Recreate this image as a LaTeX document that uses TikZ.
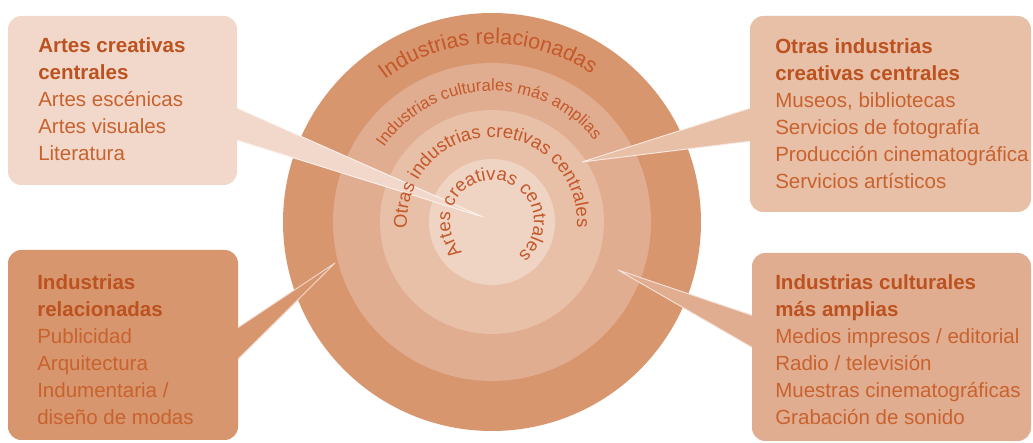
\documentclass[tikz,border=0pt]{standalone}
\usepackage{fontspec}
\setmainfont{Liberation Sans}
\usetikzlibrary{decorations.text}

% ring and box fills, from the outside in
\definecolor{ringout}{HTML}{D8966F}
\definecolor{ringwide}{HTML}{E1AD90}
\definecolor{ringother}{HTML}{E8BFA7}
\definecolor{ringcore}{HTML}{EFD3C3}
\definecolor{boxcore}{HTML}{F2D8CA}
\definecolor{headc}{HTML}{BC521F}
\definecolor{bodyc}{HTML}{C8622E}
\definecolor{ringtxt}{HTML}{C4582A}

\newcommand\boxhead[1]{{\bfseries\color{headc}#1}}

\tikzset{
  boxtext/.style={anchor=west, align=left, inner sep=0pt, text=bodyc,
    font=\fontsize{15.4pt}{20.25pt}\selectfont},
  callout/.style={rounded corners=10pt},
  wedge/.style={draw=white!65!#1, fill=#1, line width=0.7pt, line join=round},
  ringlabel/.style 2 args={decorate, decoration={text along path,
    text align=center, text color=ringtxt,
    text={|\fontsize{#1}{#1}\selectfont|#2}}}
}

\begin{document}
\begin{tikzpicture}[x=0.75pt, y=0.75pt]
\useasboundingbox (0,0) rectangle (1033,443);
\fill[white] (0,0) rectangle (1033,443);

% concentric rings
\begin{scope}[shift={(492,221)}]
  \coordinate (centre) at (0,0);
  \fill[ringout]   (centre) circle[radius=209];
  \fill[ringwide]  (centre) circle[radius=159];
  \fill[ringother] (centre) circle[radius=112];
  \fill[ringcore]  (centre) circle[radius=63];
\end{scope}

% pointer tips inside the rings
\coordinate (tipcore)  at (483,226);
\coordinate (tipother) at (582,281);
\coordinate (tipout)   at (335,180);
\coordinate (tipwide)  at (618,173);

% callout pointers
\path[wedge=boxcore]   (230,338) -- (tipcore)  -- (230,305) -- cycle;
\path[wedge=ringother] (760,338) -- (tipother) -- (760,303) -- cycle;
\path[wedge=ringout]   (230,110) -- (tipout)   -- (230,76)  -- cycle;
\path[wedge=ringwide]  (760,125) -- (tipwide)  -- (760,91)  -- cycle;

% ring names set along arcs
\begin{scope}[shift={(492,221)}]
  \path[ringlabel={16.1pt}{Industrias relacionadas}]
    (165:178) arc[start angle=165, end angle=18, radius=178];
  \path[ringlabel={12.4pt}{Industrias culturales más amplias}]
    (170:131) arc[start angle=170, end angle=14, radius=131];
  \path[ringlabel={13.9pt}{Otras industrias cretivas centrales}]
    (240:85) arc[start angle=240, end angle=-59, radius=85];
  \path[ringlabel={13.9pt}{Artes creativas centrales}]
    (250:42) arc[start angle=250, end angle=-76, radius=42];
\end{scope}

% callout boxes
\fill[callout, boxcore]   (8,258) rectangle (237,427);
\fill[callout, ringother] (750,231) rectangle (1031,427);
\fill[callout, ringout]   (8,3) rectangle (238,193);
\fill[callout, ringwide]  (752,2) rectangle (1031,190);

\node[boxtext] (core) at (38,344)
  {\boxhead{Artes creativas}\\\boxhead{centrales}\\Artes escénicas\\Artes visuales\\Literatura};
\node[boxtext] (other) at (775,329)
  {\boxhead{Otras industrias}\\\boxhead{creativas centrales}\\Museos, bibliotecas\\Servicios de fotografía\\Producción cinematográfica\\Servicios artísticos};
\node[boxtext] (related) at (37,93)
  {\boxhead{Industrias}\\\boxhead{relacionadas}\\Publicidad\\Arquitectura\\Indumentaria /\\diseño de modas};
\node[boxtext] (wider) at (775,93)
  {\boxhead{Industrias culturales}\\\boxhead{más amplias}\\Medios impresos / editorial\\Radio / televisión\\Muestras cinematográficas\\Grabación de sonido};
\end{tikzpicture}
\end{document}
